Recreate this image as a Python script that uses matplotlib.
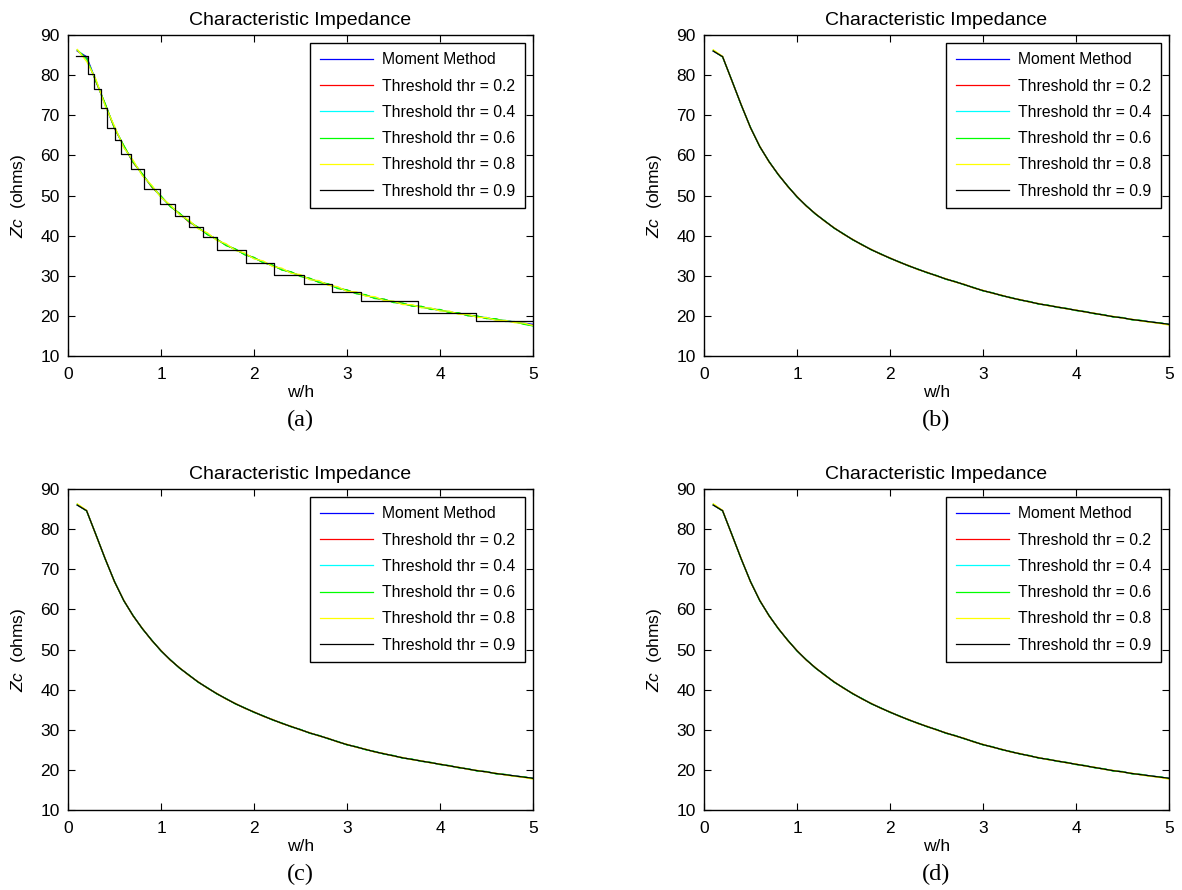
import matplotlib.pyplot as plt

plt.rcParams['font.family'] = ['Liberation Sans', 'DejaVu Sans']
plt.rcParams['mathtext.fontset'] = 'custom'
plt.rcParams['mathtext.it'] = 'Liberation Sans:italic'
plt.rcParams['mathtext.rm'] = 'Liberation Sans'

# w/h grid
w_h = [0.1, 0.2, 0.3, 0.4, 0.5, 0.6, 0.7, 0.8, 0.9, 1.0,
       1.1, 1.2, 1.3, 1.4, 1.5, 1.6, 1.7, 1.8, 1.9, 2.0,
       2.1, 2.2, 2.3, 2.4, 2.5, 2.6, 2.7, 2.8, 2.9, 3.0,
       3.1, 3.2, 3.3, 3.4, 3.5, 3.6, 3.7, 3.8, 3.9, 4.0,
       4.1, 4.2, 4.3, 4.4, 4.5, 4.6, 4.7, 4.8, 4.9, 5.0]

# Moment Method
zc_moment = [86.0, 84.6, 78.6, 72.6, 66.9, 62.2, 58.4, 55.2, 52.3, 49.7,
             47.4, 45.4, 43.6, 41.9, 40.4, 39.0, 37.7, 36.5, 35.4, 34.4,
             33.4, 32.5, 31.6, 30.8, 30.0, 29.2, 28.5, 27.8, 27.0, 26.3,
             25.7, 25.1, 24.5, 24.0, 23.5, 23.0, 22.6, 22.2, 21.8, 21.4,
             21.0, 20.6, 20.2, 19.8, 19.5, 19.1, 18.8, 18.5, 18.2, 17.9]

# panel (a) thresholds
thr02_a = [86.1, 84.2, 78.4, 72.8, 66.7, 62.4, 58.2, 55.3, 52.1, 49.8,
           47.3, 45.5, 43.4, 42.0, 40.3, 39.1, 37.6, 36.6, 35.3, 34.5,
           33.3, 32.6, 31.5, 30.9, 29.9, 29.3, 28.4, 27.9, 26.9, 26.4,
           25.6, 25.2, 24.4, 24.1, 23.4, 23.1, 22.5, 22.3, 21.7, 21.5,
           20.9, 20.7, 20.1, 19.9, 19.4, 19.2, 18.7, 18.5, 18.0, 17.6]
thr04_a = [86.2, 83.9, 78.8, 72.4, 67.1, 62.0, 58.6, 55.0, 52.4, 49.6,
           47.5, 45.3, 43.7, 41.8, 40.5, 38.9, 37.8, 36.4, 35.5, 34.3,
           33.5, 32.4, 31.7, 30.7, 30.1, 29.1, 28.6, 27.7, 27.1, 26.2,
           25.8, 25.0, 24.6, 23.9, 23.6, 22.9, 22.7, 22.1, 21.9, 21.3,
           21.1, 20.5, 20.3, 19.7, 19.6, 19.0, 18.9, 18.4, 18.1, 17.5]
thr06_a = [86.3, 84.1, 78.5, 72.9, 66.8, 62.5, 58.3, 55.4, 52.2, 49.9,
           47.2, 45.6, 43.5, 42.1, 40.2, 39.2, 37.5, 36.7, 35.2, 34.6,
           33.2, 32.7, 31.4, 31.0, 29.8, 29.4, 28.3, 28.0, 26.8, 26.5,
           25.5, 25.3, 24.3, 24.2, 23.3, 23.2, 22.4, 22.4, 21.6, 21.6,
           20.8, 20.8, 20.0, 20.0, 19.3, 19.3, 18.6, 18.6, 17.9, 17.5]
thr08_a = [86.4, 83.4, 79.0, 72.3, 67.3, 61.9, 58.8, 54.9, 52.6, 49.5,
           47.7, 45.2, 43.9, 41.7, 40.7, 38.8, 38.0, 36.3, 35.7, 34.2,
           33.7, 32.3, 31.9, 30.6, 30.3, 29.0, 28.8, 27.6, 27.3, 26.1,
           26.0, 24.9, 24.8, 23.8, 23.7, 22.8, 22.8, 22.0, 22.0, 21.2,
           21.2, 20.4, 20.4, 19.6, 19.6, 18.9, 18.9, 18.3, 18.2, 17.6]

# panel (a) thr = 0.9 staircase
step_x = [0.09, 0.22, 0.28, 0.35, 0.42, 0.50, 0.57, 0.68, 0.82, 0.99, 1.15,
          1.30, 1.45, 1.60, 1.91, 2.21, 2.54, 2.84, 3.15, 3.76, 4.39, 5.0]
step_y = [84.8, 80.4, 76.5, 71.7, 66.9, 63.8, 60.3, 56.6, 51.7, 48.0, 44.8,
          42.1, 39.7, 36.5, 33.2, 30.3, 28.0, 25.9, 23.6, 20.8, 18.6, 18.6]

# panels (b)-(d): converged thresholds
conv06 = [86.2, 84.5, 78.7, 72.5, 67.0, 62.1, 58.5, 55.1, 52.4, 49.6,
          47.5, 45.3, 43.7, 41.8, 40.5, 38.9, 37.8, 36.4, 35.5, 34.3,
          33.5, 32.4, 31.7, 30.7, 30.1, 29.1, 28.6, 27.7, 27.1, 26.2,
          25.8, 25.0, 24.6, 23.9, 23.6, 22.9, 22.7, 22.1, 21.9, 21.3,
          21.1, 20.5, 20.3, 19.7, 19.6, 19.0, 18.9, 18.4, 18.3, 17.8]
conv08 = [86.3, 84.7, 78.5, 72.7, 66.8, 62.3, 58.3, 55.3, 52.2, 49.8,
          47.3, 45.5, 43.5, 42.0, 40.3, 39.1, 37.6, 36.6, 35.3, 34.5,
          33.3, 32.6, 31.5, 30.9, 29.9, 29.3, 28.4, 27.9, 26.9, 26.4,
          25.6, 25.2, 24.4, 24.1, 23.4, 23.1, 22.5, 22.3, 21.7, 21.5,
          20.9, 20.7, 20.1, 19.9, 19.4, 19.2, 18.7, 18.4, 18.1, 17.7]

labels = ['Moment Method', 'Threshold thr = 0.2', 'Threshold thr = 0.4',
          'Threshold thr = 0.6', 'Threshold thr = 0.8', 'Threshold thr = 0.9']
colors = [(0, 0, 1), (1, 0, 0), (0, 1, 1), (0, 1, 0), (1, 1, 0), (0, 0, 0)]
captions = ['(a)', '(b)', '(c)', '(d)']

fig = plt.figure(figsize=(11.82, 8.9), dpi=100)
W, H = 1182, 890
boxes = [(68, 35), (704, 35), (68, 489), (704, 489)]
aw, ah = 465, 321

for i, (px, py) in enumerate(boxes):
    ax = fig.add_axes([px / W, 1 - (py + ah) / H, aw / W, ah / H])
    if i == 0:
        series = [zc_moment, thr02_a, thr04_a, thr06_a, thr08_a]
    else:
        series = [zc_moment, zc_moment, zc_moment, conv06, conv08]
    for ys, c, lab in zip(series, colors[:5], labels[:5]):
        ax.plot(w_h, ys, color=c, lw=0.9, label=lab)
    if i == 0:
        ax.plot(step_x, step_y, color='k', lw=0.9, drawstyle='steps-post', label=labels[5])
    else:
        ax.plot(w_h, zc_moment, color='k', lw=0.9, label=labels[5])

    ax.set_xlim(0, 5)
    ax.set_ylim(10, 90)
    ax.set_xticks([0, 1, 2, 3, 4, 5])
    ax.set_yticks([10, 20, 30, 40, 50, 60, 70, 80, 90])
    ax.tick_params(direction='in', top=True, right=True, length=5, width=0.8, labelsize=12.5)
    ax.tick_params(axis='x', pad=8)
    ax.tick_params(axis='y', pad=6)
    for s in ax.spines.values():
        s.set_linewidth(1.0)
    ax.set_title('Characteristic Impedance', fontsize=14, pad=7)
    ax.set_xlabel('w/h', fontsize=12.5, labelpad=2)
    ax.set_ylabel(r'$Zc$  (ohms)', fontsize=12.5, labelpad=9)
    leg = ax.legend(loc='upper right', fontsize=11.3, fancybox=False, framealpha=1,
                    edgecolor='k', handlelength=3.4, handletextpad=0.6,
                    labelspacing=0.72, borderaxespad=0.5, borderpad=0.6)
    leg.get_frame().set_linewidth(1.0)
    fig.text((px + aw / 2) / W, 1 - (py + ah + 64) / H, captions[i],
             family='Liberation Serif', fontsize=17.5, ha='center', va='center')

fig.savefig('out.png', dpi=100)
